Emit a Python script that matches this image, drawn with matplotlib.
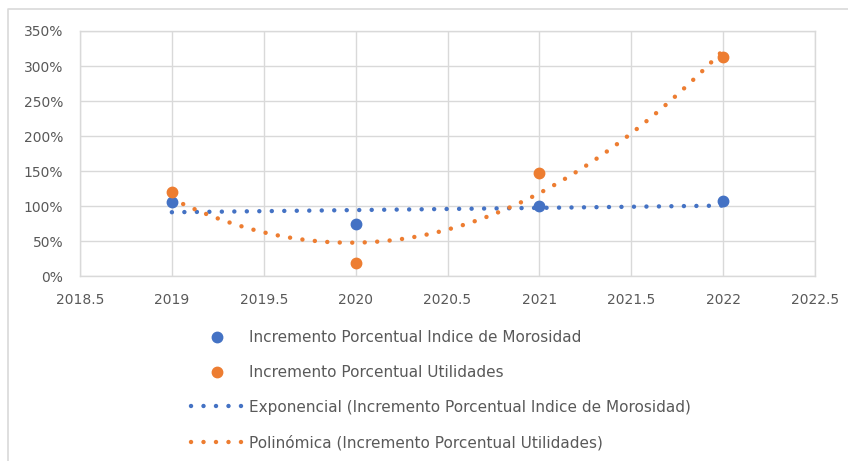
import numpy as np
import matplotlib
matplotlib.use('Agg')
import matplotlib.pyplot as plt
from matplotlib.ticker import FuncFormatter
from matplotlib.lines import Line2D

# data
years = [2019, 2020, 2021, 2022]
morosidad = [1.06, 0.74, 1.00, 1.07]     # Incremento Porcentual Indice de Morosidad
utilidades = [1.20, 0.19, 1.47, 3.13]    # Incremento Porcentual Utilidades

lbl_mor = 'Incremento Porcentual Indice de Morosidad'
lbl_uti = 'Incremento Porcentual Utilidades'
lbl_exp = 'Exponencial (Incremento Porcentual Indice de Morosidad)'
lbl_pol = 'Polinómica (Incremento Porcentual Utilidades)'

BLUE = '#4472C4'
ORANGE = '#ED7D31'
GRID = '#D9D9D9'
TXT = '#595959'

plt.rcParams['font.family'] = 'DejaVu Sans'
plt.rcParams['font.size'] = 10

fig = plt.figure(figsize=(8.48, 4.61), dpi=100)
ax = fig.add_axes([80 / 848, 1 - 276 / 461, 735 / 848, 245 / 461])

# trendlines like Excel (exponential and 2nd order polynomial)
x = np.array(years, dtype=float)
xs = np.linspace(x[0], x[-1], 300)
b, a = np.polyfit(x - x[0], np.log(morosidad), 1)
exp_fit = np.exp(a + b * (xs - x[0]))
pol = np.polyfit(x - x[0], utilidades, 2)
pol_fit = np.polyval(pol, xs - x[0])

LW = 3.2
dots = (0, (0.01, 2.8))
ax.plot(xs, exp_fit, color=BLUE, lw=LW, ls=dots, dash_capstyle='round', zorder=3)
ax.plot(xs, pol_fit, color=ORANGE, lw=LW, ls=dots, dash_capstyle='round', zorder=3)
ax.plot(years, morosidad, 'o', color=BLUE, ms=7.5, zorder=4)
ax.plot(years, utilidades, 'o', color=ORANGE, ms=7.5, zorder=4)

ax.set_xlim(2018.5, 2022.5)
ax.set_ylim(0, 3.5)
ax.set_xticks(np.arange(2018.5, 2022.51, 0.5))
ax.set_yticks(np.arange(0, 3.51, 0.5))
ax.xaxis.set_major_formatter(FuncFormatter(lambda v, p: ('%g' % v)))
ax.yaxis.set_major_formatter(FuncFormatter(lambda v, p: '%d%%' % round(v * 100)))
ax.grid(True, color=GRID, lw=1)
ax.set_axisbelow(True)
for s in ax.spines.values():
    s.set_color(GRID)
    s.set_linewidth(1)
ax.tick_params(length=0, colors=TXT, labelsize=10)
ax.tick_params(axis='y', pad=12)
ax.tick_params(axis='x', pad=12)

handles = [
    Line2D([], [], color=BLUE, marker='o', ls='none', ms=7.5),
    Line2D([], [], color=ORANGE, marker='o', ls='none', ms=7.5),
    Line2D([], [], color=BLUE, lw=LW, ls=dots, dash_capstyle='round'),
    Line2D([], [], color=ORANGE, lw=LW, ls=dots, dash_capstyle='round'),
]
leg = fig.legend(handles, [lbl_mor, lbl_uti, lbl_exp, lbl_pol],
                 loc='upper left', bbox_to_anchor=(191 / 848, 1 - 330 / 461),
                 frameon=False, fontsize=11, handlelength=3.4, handletextpad=0.4,
                 labelspacing=1.3, borderpad=0, borderaxespad=0)
for t in leg.get_texts():
    t.set_color(TXT)

# outer chart frame (only left and top visible)
fig.add_artist(Line2D([8 / 848, 8 / 848, 1], [0, 1 - 9 / 461, 1 - 9 / 461],
                      color=GRID, lw=1.2, transform=fig.transFigure))

fig.savefig('out.png', dpi=100, facecolor='white')
